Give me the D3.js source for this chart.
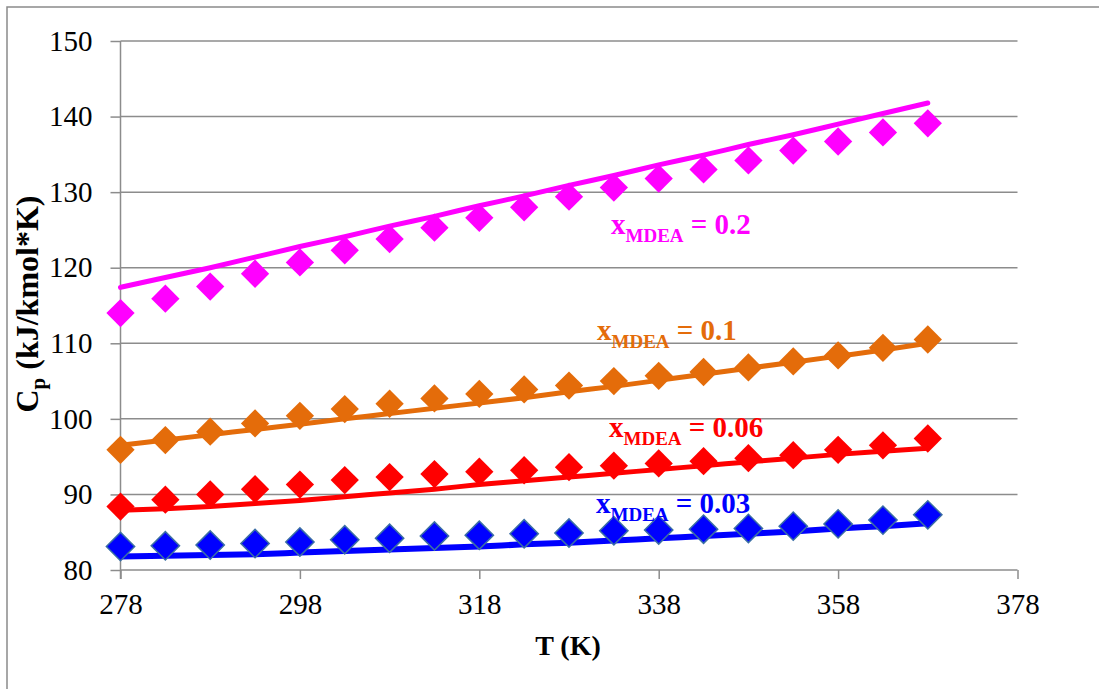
<!DOCTYPE html>
<html>
<head>
<meta charset="utf-8">
<script src="https://cdn.jsdelivr.net/npm/d3@7"></script>
</head>
<body style="margin:0">
<svg id="chart" width="1099" height="689" font-family="Liberation Serif"></svg>
<script>
// Temperatures (K) of the measurement points
const temperatures = [278, 283, 288, 293, 298, 303, 308, 313, 318, 323, 328, 333, 338, 343, 348, 353, 358, 363, 368];

// Measured heat capacity Cp (kJ/kmol*K) for each MDEA mole fraction
const cpMeasured020 = [114.0, 115.9, 117.5, 119.2, 120.7, 122.3, 123.8, 125.3, 126.6, 128.0, 129.4, 130.6, 131.8, 133.0, 134.2, 135.5, 136.7, 137.9, 139.1];
const cpMeasured010 = [95.9, 97.2, 98.3, 99.4, 100.4, 101.3, 102.0, 102.7, 103.3, 103.9, 104.4, 105.0, 105.7, 106.2, 106.8, 107.6, 108.4, 109.4, 110.5];
const cpMeasured006 = [88.4, 89.3, 90.0, 90.7, 91.3, 91.9, 92.3, 92.7, 93.0, 93.2, 93.6, 93.8, 94.1, 94.4, 94.8, 95.2, 95.9, 96.5, 97.4];
const cpMeasured003 = [83.1, 83.2, 83.3, 83.5, 83.7, 84.0, 84.2, 84.5, 84.6, 84.8, 84.9, 85.2, 85.3, 85.4, 85.5, 85.8, 86.1, 86.6, 87.3];

// Calculated (model) Cp curves at the same temperatures
const cpModel020 = [117.4, 118.7, 120.0, 121.4, 122.8, 124.1, 125.5, 126.8, 128.2, 129.5, 130.9, 132.2, 133.6, 134.9, 136.3, 137.6, 139.0, 140.4, 141.8];
const cpModel010 = [96.5, 97.2, 97.9, 98.6, 99.3, 100.0, 100.7, 101.4, 102.1, 102.8, 103.6, 104.3, 105.1, 105.9, 106.7, 107.5, 108.3, 109.1, 110.0];
const cpModel006 = [87.9, 88.1, 88.4, 88.8, 89.2, 89.7, 90.2, 90.7, 91.3, 91.8, 92.3, 92.8, 93.3, 93.8, 94.3, 94.8, 95.3, 95.7, 96.1];
const cpModel003 = [81.8, 81.9, 82.0, 82.1, 82.3, 82.5, 82.7, 82.9, 83.1, 83.4, 83.6, 83.9, 84.2, 84.5, 84.8, 85.1, 85.5, 85.8, 86.2];

// Series labels (mole fraction) and axis ticks
const seriesFractions = ["0.2", "0.1", "0.06", "0.03"];
const xTickValues = [278, 298, 318, 338, 358, 378];
const yTickValues = [80, 90, 100, 110, 120, 130, 140, 150];

const FONT = "Liberation Serif";

const svg = d3.select("#chart");

// Outer chart frame
svg.append("rect")
  .attr("x", 7).attr("y", 7)
  .attr("width", 1200).attr("height", 800)
  .attr("fill", "none")
  .attr("stroke", "#8a8a8a")
  .attr("stroke-width", 1.5);

const x = d3.scaleLinear().domain([278, 378]).range([120.5, 1017.5]);
const y = d3.scaleLinear().domain([80, 150]).range([570, 41]);

// Horizontal gridlines
svg.append("g")
  .selectAll("line")
  .data(yTickValues.slice(1))
  .join("line")
  .attr("x1", x(278)).attr("x2", x(378))
  .attr("y1", d => y(d)).attr("y2", d => y(d))
  .attr("stroke", "#8c8c8c")
  .attr("stroke-width", 1.5);

// Y axis
const yAxis = svg.append("g")
  .attr("transform", `translate(${x(278)},0)`)
  .call(d3.axisLeft(y).tickValues(yTickValues).tickSize(10).tickPadding(18).tickFormat(d3.format("d")));
yAxis.attr("font-family", FONT).attr("font-size", 29);
yAxis.select(".domain").attr("stroke", "#8c8c8c").attr("stroke-width", 1.5)
  .attr("d", `M0,${y(150)}V${y(80) + 9}`);
yAxis.selectAll(".tick line").attr("stroke", "#8c8c8c").attr("stroke-width", 1.5);
yAxis.selectAll(".tick text").attr("fill", "#000");

// X axis
const xAxis = svg.append("g")
  .attr("transform", `translate(0,${y(80)})`)
  .call(d3.axisBottom(x).tickValues(xTickValues).tickSize(9).tickPadding(14).tickFormat(d3.format("d")));
xAxis.attr("font-family", FONT).attr("font-size", 29);
xAxis.select(".domain").attr("stroke", "#8c8c8c").attr("stroke-width", 1.5)
  .attr("d", `M${x(278)},0H${x(378)}`);
xAxis.selectAll(".tick line").attr("stroke", "#8c8c8c").attr("stroke-width", 1.5);
xAxis.selectAll(".tick text").attr("fill", "#000");

// Axis titles
svg.append("text")
  .attr("x", 568).attr("y", 655)
  .attr("text-anchor", "middle")
  .attr("font-family", FONT)
  .attr("font-size", 28)
  .attr("font-weight", "bold")
  .text("T (K)");

const yTitle = svg.append("text")
  .attr("transform", "translate(38,304) rotate(-90)")
  .attr("text-anchor", "middle")
  .attr("font-family", FONT)
  .attr("font-size", 32)
  .attr("font-weight", "bold");
yTitle.append("tspan").text("C");
yTitle.append("tspan").attr("dy", 7).attr("font-size", 21).text("p");
yTitle.append("tspan").attr("dy", -7).text(" (kJ/kmol*K)");

// Series definitions
const series = [
  { fraction: seriesFractions[0], measured: cpMeasured020, model: cpModel020, color: "#ff00ff", marker: "none", lw: 5, label: [611, 234] },
  { fraction: seriesFractions[1], measured: cpMeasured010, model: cpModel010, color: "#e46c0a", marker: "none", lw: 5, label: [597, 340] },
  { fraction: seriesFractions[2], measured: cpMeasured006, model: cpModel006, color: "#ff0000", marker: "none", lw: 5, label: [609, 437] },
  { fraction: seriesFractions[3], measured: cpMeasured003, model: cpModel003, color: "#0000ff", marker: "#3a6ea5", lw: 6, label: [596, 513] }
];

const line = d3.line()
  .x((d, i) => x(temperatures[i]))
  .y(d => y(d))
  .curve(d3.curveMonotoneX);

// Model curves
svg.append("g")
  .selectAll("path")
  .data(series)
  .join("path")
  .attr("d", s => line(s.model))
  .attr("fill", "none")
  .attr("stroke", s => s.color)
  .attr("stroke-width", s => s.lw)
  .attr("stroke-linecap", "round");

// Measured points as diamonds
const diamond = d3.symbol().type(d3.symbolSquare).size(400);
series.forEach(s => {
  svg.append("g")
    .selectAll("path")
    .data(s.measured)
    .join("path")
    .attr("d", diamond)
    .attr("transform", (d, i) => `translate(${x(temperatures[i])},${y(d)}) rotate(45)`)
    .attr("fill", s.color)
    .attr("stroke", s.marker)
    .attr("stroke-width", s.marker === "none" ? 0 : 1.5);
});

// Series labels
series.forEach(s => {
  const t = svg.append("text")
    .attr("x", s.label[0]).attr("y", s.label[1])
    .attr("fill", s.color)
    .attr("font-family", FONT)
    .attr("font-weight", "bold")
    .attr("font-size", 29);
  t.append("tspan").text("x");
  t.append("tspan").attr("dy", 8).attr("font-size", 19).text("MDEA");
  t.append("tspan").attr("dy", -8).text(" = " + s.fraction);
});
</script>
</body>
</html>
